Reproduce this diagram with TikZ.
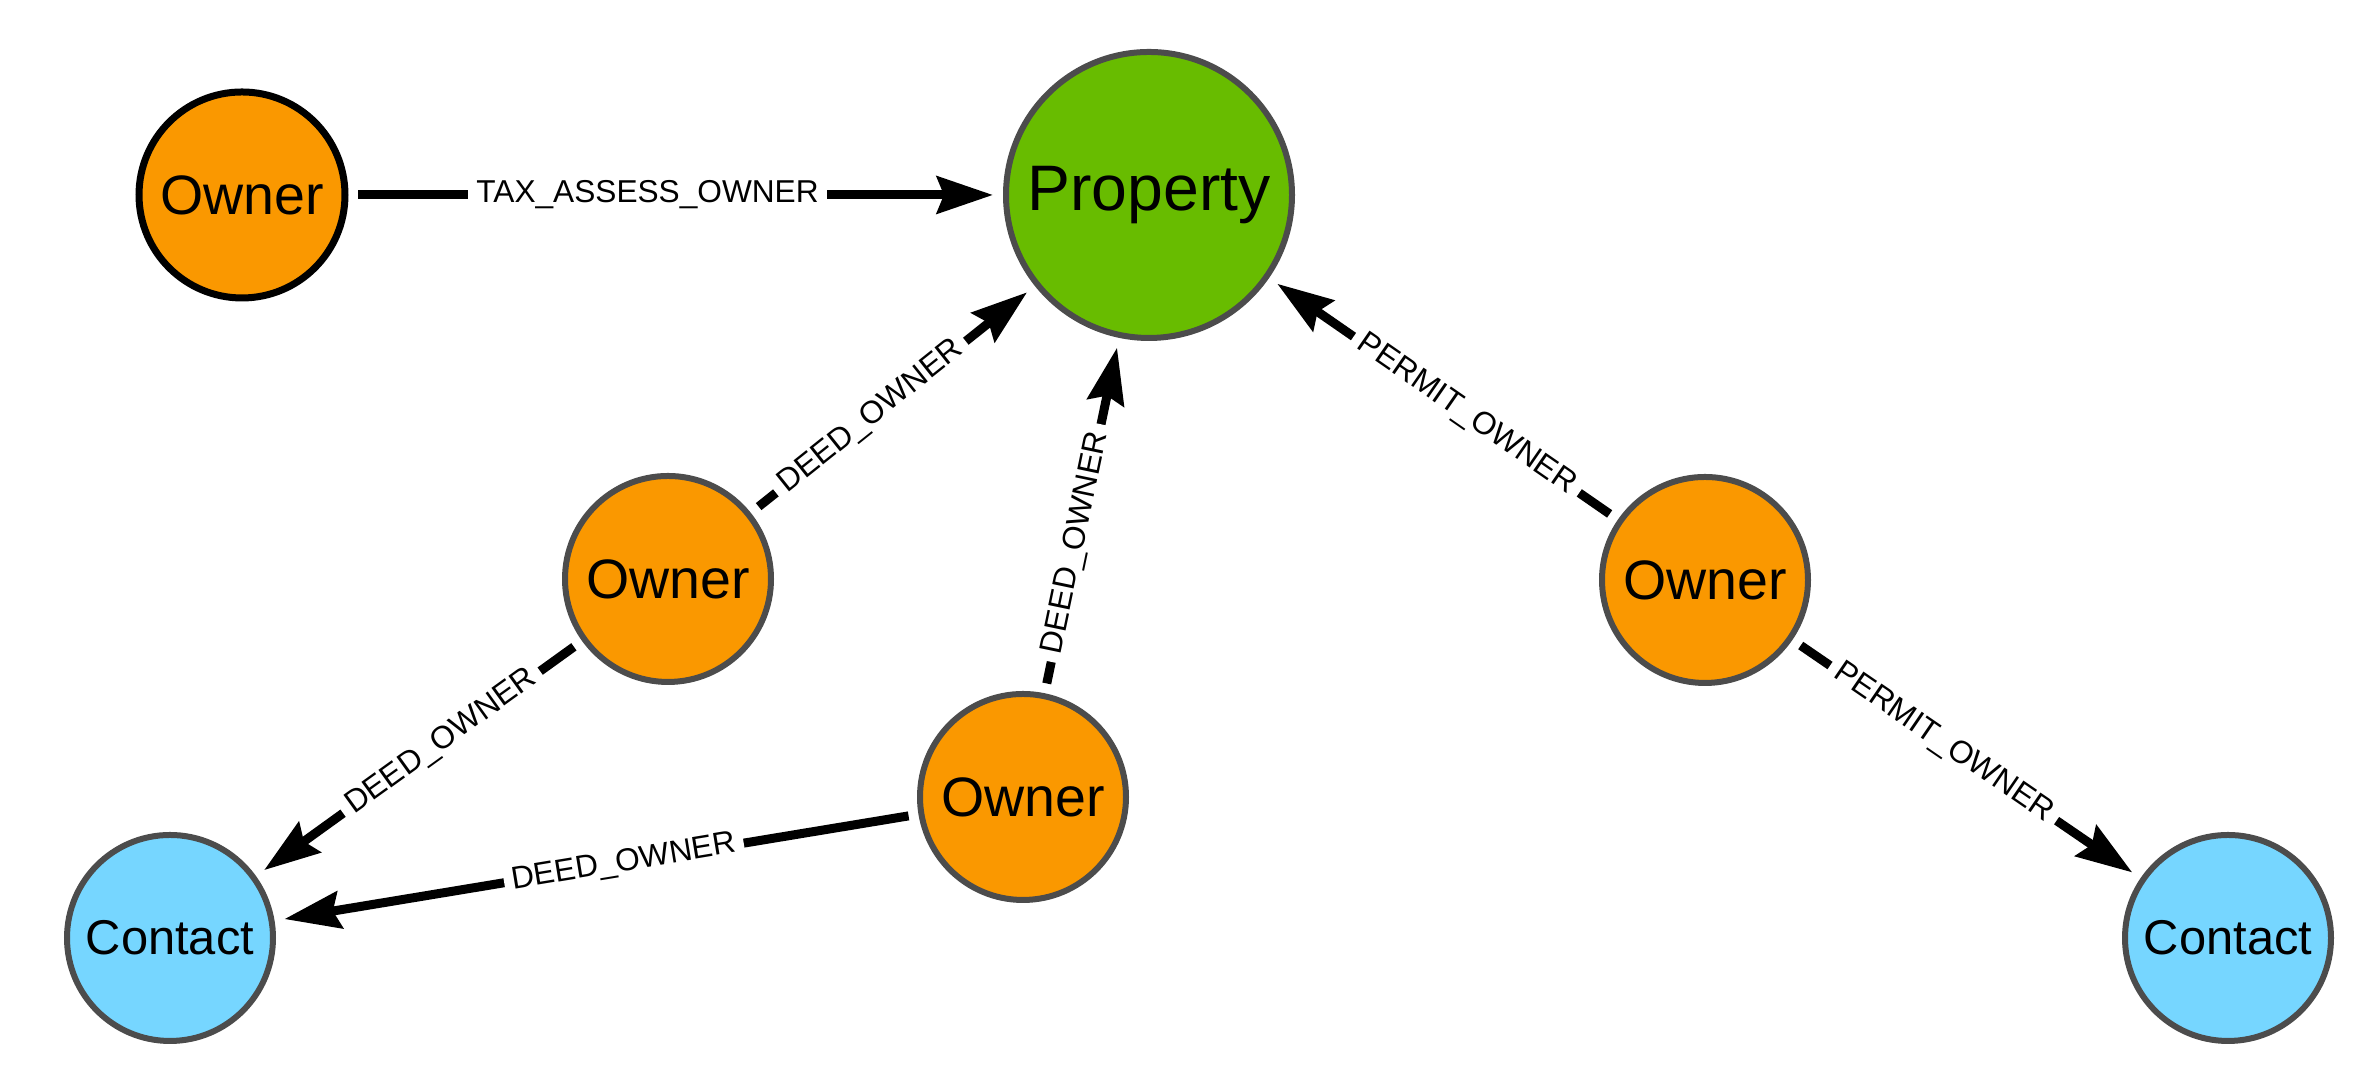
\documentclass[tikz,border=0pt]{standalone}
\usepackage{fontspec}
\setmainfont{Liberation Sans}
\usetikzlibrary{arrows.meta}
\definecolor{ownerc}{RGB}{250,152,0}
\definecolor{propc}{RGB}{104,188,0}
\definecolor{contc}{RGB}{118,214,255}
\definecolor{bordc}{RGB}{76,76,76}
\tikzset{
  gnode/.style={circle, draw=bordc, line width=0.06cm, inner sep=0pt, outer sep=0.13cm, text=black},
  owner/.style={gnode, fill=ownerc, minimum size=2.06cm, font=\fontsize{15.8}{18}\selectfont},
  prop/.style={gnode, fill=propc, minimum size=2.86cm, font=\fontsize{18.3}{21}\selectfont},
  contact/.style={gnode, fill=contc, minimum size=2.06cm, font=\fontsize{13.9}{16}\selectfont},
  rel/.style={line width=0.09cm, draw=black, -{Stealth[length=0.56cm, width=0.37cm, inset=0.07cm]}},
  rlabel/.style={fill=white, inner sep=0.08cm, sloped, font=\fontsize{9}{10}\selectfont, text=black}
}
\begin{document}
\begin{tikzpicture}
\useasboundingbox[fill=white] (0,0) rectangle (23.72,10.78);
\node[owner, draw=black, line width=0.07cm] (o1) at (2.42,8.83) {Owner};
\node[prop] (p) at (11.49,8.83) {Property};
\node[owner] (o2) at (6.68,4.99) {Owner};
\node[owner] (o3) at (10.23,2.81) {Owner};
\node[owner] (o4) at (17.05,4.98) {Owner};
\node[contact] (c1) at (1.70,1.40) {Contact};
\node[contact] (c2) at (22.28,1.40) {Contact};

\draw[rel] (o1) -- node[rlabel, pos=0.456] (l1) {TAX\_ASSESS\_OWNER} (p);
\draw[rel] (o2) -- node[rlabel, pos=0.418] (l2) {DEED\_OWNER} (p);
\draw[rel] (o3) -- node[rlabel, pos=0.418] (l3) {DEED\_OWNER} (p);
\draw[rel] (o4) -- node[rlabel, pos=0.431] (l4) {PERMIT\_OWNER} (p);
\draw[rel] (o2) -- node[rlabel, pos=0.427] (l5) {DEED\_OWNER} (c1);
\draw[rel] (o3) -- node[rlabel, pos=0.456] (l6) {DEED\_OWNER} (c1);
\draw[rel] (o4) -- node[rlabel, pos=0.430] (l7) {PERMIT\_OWNER} (c2);
\end{tikzpicture}
\end{document}
